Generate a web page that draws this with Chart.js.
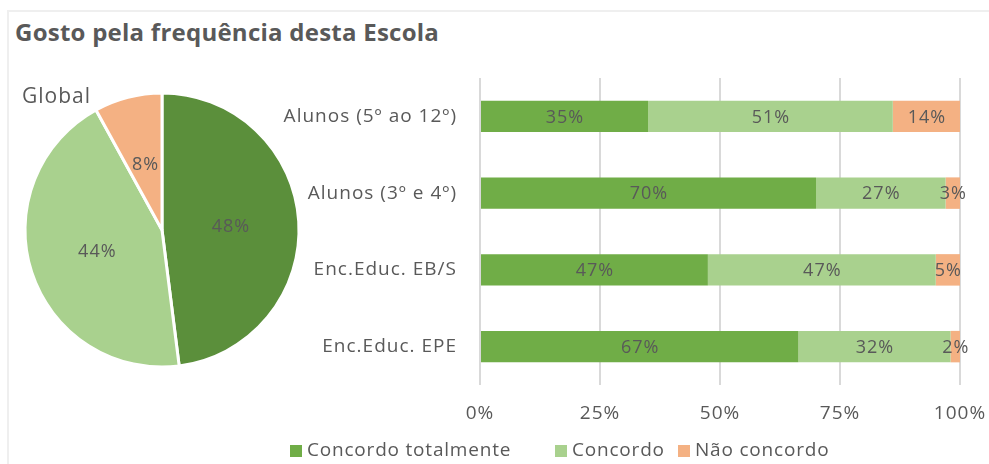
<!DOCTYPE html>
<html>
<head>
<meta charset="utf-8">
<script src="https://cdn.jsdelivr.net/npm/chart.js@4/dist/chart.umd.min.js"></script>
<style>
  body { margin: 0; background: #fff; width: 989px; height: 464px; overflow: hidden; position: relative; font-family: "Open Sans", sans-serif; color: #595959; }
  #frame { position: absolute; left: 7px; top: 10px; width: 990px; height: 470px; border-top: 2px solid #efefef; border-left: 2px solid #efefef; }
  #title { position: absolute; left: 15px; top: 15px; font-size: 24px; font-weight: bold; letter-spacing: 0.25px; }
  #global { position: absolute; left: 22px; top: 81px; font-size: 21px; letter-spacing: 1px; }
  #pie { position: absolute; left: 12px; top: 80px; }
  #bars { position: absolute; left: 280px; top: 0; }
  #legend { position: absolute; left: 290px; top: 436px; display: flex; font-size: 19px; line-height: 26px; letter-spacing: 0.8px; white-space: nowrap; }
  #legend div:nth-child(1) { width: 265px; }
  #legend div:nth-child(2) { width: 123px; }
  #legend span { display: inline-block; width: 12px; height: 12px; margin-right: 5px; vertical-align: -1px; }
</style>
</head>
<body>
<div id="frame"></div>
<div id="title">Gosto pela frequência desta Escola</div>
<canvas id="pie" width="300" height="300"></canvas>
<div id="global">Global</div>
<canvas id="bars" width="709" height="464"></canvas>
<div id="legend"></div>
<script>
let answers = ['Concordo totalmente', 'Concordo', 'Não concordo'],
    groups = ['Alunos (5º ao 12º)', 'Alunos (3º e 4º)', 'Enc.Educ. EB/S', 'Enc.Educ. EPE'],
    totalmente = [35, 70, 47, 67],
    concordo = [51, 27, 47, 32],
    naoConcordo = [14, 3, 5, 2],
    globalPie = [48, 44, 8],
    ticks = ['0%', '25%', '50%', '75%', '100%'],
    barColors = ['#70ad47', '#a9d18e', '#f4b183'],
    pieColors = ['#5b8f3b', '#a9d18e', '#f4b183'],
    textColor = '#595959',
    font = '"Open Sans"';

// each row is stacked to 100%, the labels keep the raw percentages
function share(values, row) {
    let sum = totalmente[row] + concordo[row] + naoConcordo[row];
    return values[row] / sum * 100;
}

// a bit of tracking on all canvas text (resizing the canvas resets it)
const spacing = {
    id: 'spacing',
    beforeUpdate(chart) { chart.ctx.letterSpacing = '1px'; },
    beforeDraw(chart) { chart.ctx.letterSpacing = '1px'; }
};

const valueLabels = {
    id: 'valueLabels',
    afterDatasetsDraw(chart) {
        const ctx = chart.ctx;
        ctx.save();
        ctx.font = '18px ' + font;
        ctx.fillStyle = textColor;
        ctx.textAlign = 'center';
        ctx.textBaseline = 'middle';
        chart.data.datasets.forEach(function (ds, i) {
            chart.getDatasetMeta(i).data.forEach(function (el, j) {
                let p = (el.startAngle !== undefined) ? el.tooltipPosition() : el.getCenterPoint();
                ctx.fillText(ds.raw[j] + '%', p.x + 0.5, p.y + 1);
            });
        });
        ctx.restore();
    }
};

new Chart(document.getElementById('pie'), {
    type: 'pie',
    data: {
        labels: answers,
        datasets: [{
            data: globalPie,
            raw: globalPie,
            backgroundColor: pieColors,
            borderColor: '#fff',
            borderWidth: 3
        }]
    },
    options: {
        responsive: false,
        animation: false,
        radius: 137,
        plugins: { legend: { display: false }, tooltip: { enabled: false } }
    },
    plugins: [spacing, valueLabels]
});

let series = [totalmente, concordo, naoConcordo];

new Chart(document.getElementById('bars'), {
    type: 'bar',
    data: {
        labels: groups,
        datasets: series.map(function (values, i) {
            return {
                label: answers[i],
                data: values.map(function (v, row) { return share(values, row); }),
                raw: values,
                backgroundColor: barColors[i],
                barPercentage: 0.41,
                categoryPercentage: 1
            };
        })
    },
    options: {
        responsive: false,
        animation: false,
        indexAxis: 'y',
        layout: { padding: { top: 78, right: 29, left: 0, bottom: 35 } },
        scales: {
            x: {
                stacked: true,
                min: 0,
                max: 100,
                grid: { color: '#d9d9d9', lineWidth: 2, drawTicks: false },
                border: { display: false },
                afterFit: function (scale) {
                    scale.height = 44;
                    scale.paddingLeft = 0;
                    scale.paddingRight = 0;
                },
                ticks: {
                    stepSize: 25,
                    padding: 17,
                    color: textColor,
                    font: { family: font, size: 19 },
                    callback: function (v) { return ticks[v / 25]; }
                }
            },
            y: {
                stacked: true,
                grid: { display: false, drawTicks: false },
                border: { display: false },
                afterFit: function (scale) { scale.width = 200; },
                ticks: { padding: 23, color: textColor, font: { family: font, size: 19 } }
            }
        },
        plugins: {
            tooltip: { enabled: false },
            legend: { display: false }
        }
    },
    plugins: [spacing, valueLabels]
});

// legend under the bars, same colours as the series
let legend = document.getElementById('legend');
answers.forEach(function (item, index) {
    legend.innerHTML += '<div><span style="background:' + barColors[index] + '"></span>' + item + '</div>';
});
</script>
</body>
</html>
